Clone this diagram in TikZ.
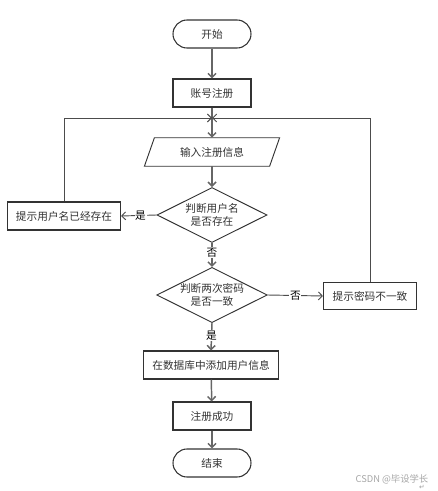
\documentclass[tikz,border=0pt]{standalone}
\usepackage{fontspec}
\setmainfont{Noto Sans CJK SC}
\newfontfamily\symfont{DejaVu Sans}
\usetikzlibrary{shapes.geometric,arrows.meta,calc}
\begin{document}
\begin{tikzpicture}[x=0.75pt,y=-0.75pt,
  every node/.style={font=\fontsize{8}{10}\selectfont, text=black!80},
  box/.style={draw=black!80, line width=0.8pt, fill=white, minimum height=21pt, inner sep=1pt},
  term/.style={box, rounded corners=10.5pt, minimum width=58.5pt},
  dec/.style={draw=black!80, line width=0.7pt, diamond, aspect=2, inner sep=0pt, minimum width=82.5pt, minimum height=41.25pt, align=center, font=\fontsize{8}{10}\selectfont},
  flow/.style={draw=black!60, line width=1.1pt, -{Straight Barb[length=3pt,width=6pt]}},
  thin/.style={draw=black!70, line width=0.7pt, -{Straight Barb[length=3pt,width=6pt]}},
  lab/.style={fill=white, inner sep=0.5pt, font=\fontsize{8}{9}\selectfont, text=black}
]
\useasboundingbox (0,0) rectangle (437,491);

\node[term] (start) at (212,34) {开始};
\node[box, minimum width=58.5pt] (reg) at (212,93) {账号注册};
\coordinate (j) at (212,118);
\node[minimum width=98pt, minimum height=21pt, inner sep=0pt] (in) at (212,152) {输入注册信息};
\draw[draw=black!80, line width=0.7pt]
  ($(in.south west)+(-2,0)$) -- ($(in.north west)+(8,0)$) --
  ($(in.north east)+(2,0)$) -- ($(in.south east)+(-8,0)$) -- cycle;
\node[dec] (d1) at (212,215) {判断用户名\\是否存在};
\node[box, minimum width=84.75pt] (exist) at (64,216) {提示用户名已经存在};
\node[dec] (d2) at (212,295) {判断两次密码\\是否一致};
\node[box, minimum width=69.75pt, minimum height=20.25pt] (mis) at (370,296) {提示密码不一致};
\node[box, minimum width=101.25pt] (db) at (211,365) {在数据库中添加用户信息};
\node[box, minimum width=58.5pt] (ok) at (212,416) {注册成功};
\node[term] (end) at (212,463) {结束};

\draw[flow] (start) -- (reg);
\draw[flow] (reg) -- (in.north);
\draw[thin] (exist.north) |- (j);
\draw[thin] (mis.north) |- (j);
\draw[flow] (in.south) -- (d1.north);
\draw[thin] (d1.west) -- node[lab, pos=0.45] (y1) {是} (exist.east);
\draw[flow] (d1.south) -- node[lab, pos=0.4] (n1) {否} (d2.north);
\draw[thin] (d2.east) -- node[lab, pos=0.5] (n2) {否} (mis.west);
\draw[flow] (d2.south) -- node[lab, pos=0.45] (y2) {是} (db.north);
\draw[flow] (db) -- (ok);
\draw[flow] (ok) -- (end);

\node[text=black!35, font=\fontsize{7}{8}\selectfont, anchor=east] (wm) at (433,479) {CSDN @毕设学长};
\node[text=black!40, font=\symfont\fontsize{5}{6}\selectfont] (ret) at (422,487) {↵};
\end{tikzpicture}
\end{document}
